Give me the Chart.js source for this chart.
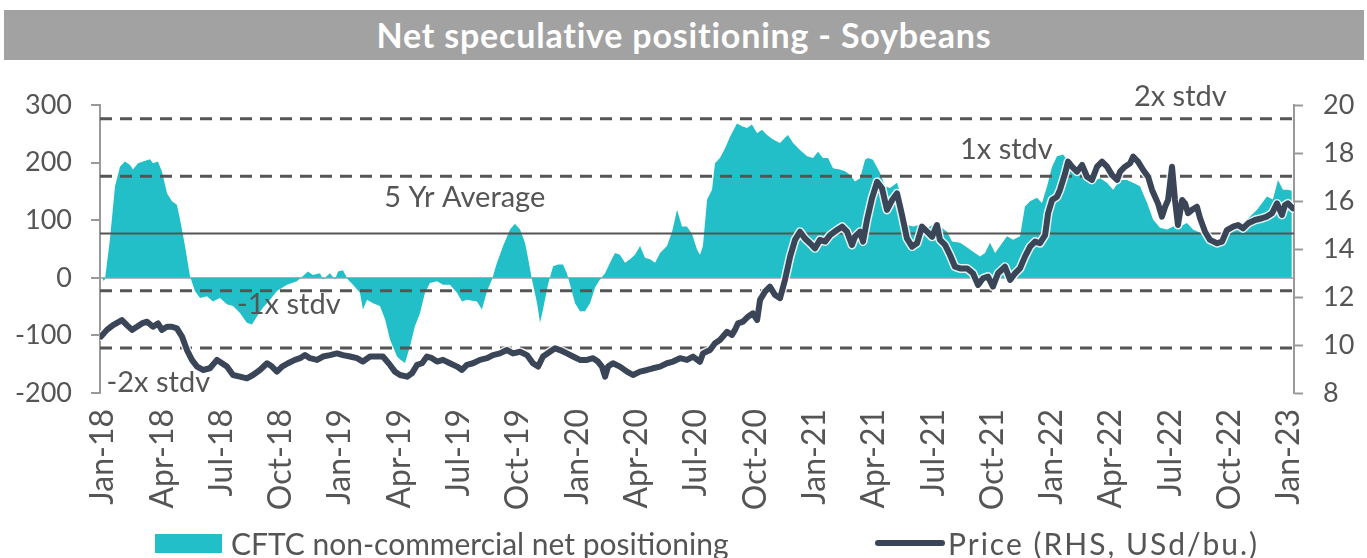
<!DOCTYPE html>
<html><head><meta charset="utf-8">
<script src="https://cdn.jsdelivr.net/npm/chart.js@4/dist/chart.umd.min.js"></script>
<style>
html,body{margin:0;padding:0;background:#fff;width:1367px;height:558px;overflow:hidden;font-family:Lato,sans-serif;}
#wrap{position:absolute;left:0;top:0;width:1367px;height:558px;}
#title{position:absolute;left:4px;top:10px;width:1360px;height:50px;background:#a2a2a2;color:#fff;font:bold 34px Lato,sans-serif;letter-spacing:0.8px;text-align:center;line-height:50px;}
#legend{position:absolute;top:527px;left:0;width:1367px;height:32px;font:30px Lato,sans-serif;color:#555;}
.item{position:absolute;top:0;display:flex;align-items:center;height:32px;white-space:nowrap}
.box{display:inline-block;width:67px;height:19px;background:#22bfc9;margin-right:9px}
.line{display:inline-block;width:70px;height:6px;border-radius:3px;background:#3a4558;margin-right:3px}
</style></head>
<body>
<div id="wrap"><canvas id="c" width="1367" height="558"></canvas></div>
<div id="title">Net speculative positioning - Soybeans</div>
<div id="legend">
<div class="item" style="left:155px"><span class="box"></span>CFTC non-commercial net positioning</div>
<div class="item" style="left:875px;letter-spacing:2px"><span class="line"></span>Price (RHS, USd/bu.)</div>
</div>
<script>
// x values are months since Jan-2018
const tickLabels = ['Jan-18','Apr-18','Jul-18','Oct-18','Jan-19','Apr-19','Jul-19','Oct-19','Jan-20','Apr-20','Jul-20','Oct-20','Jan-21','Apr-21','Jul-21','Oct-21','Jan-22','Apr-22','Jul-22','Oct-22','Jan-23'];
const tickMonths = [0,3,6,9,12,15,18,21,24,27,30,33,36,39,42,45,48,51,54,57,60];

const posMonths = [0.00,0.10,0.35,0.61,0.86,1.11,1.37,1.52,1.77,2.02,2.38,2.53,2.78,2.98,3.24,3.49,3.74,3.90,4.15,4.40,4.65,4.91,5.26,5.56,5.92,6.27,6.58,6.93,7.28,7.54,7.79,8.09,8.45,8.80,9.31,9.81,10.12,10.37,10.62,10.98,11.13,11.48,11.74,11.89,12.14,12.39,12.65,13.00,13.15,13.36,13.66,14.01,14.27,14.52,14.87,15.03,15.28,15.53,15.78,16.04,16.29,16.54,16.90,17.20,17.55,17.91,18.16,18.41,18.92,19.17,19.43,19.68,19.93,20.24,20.59,20.84,21.10,21.35,21.50,21.70,21.96,22.11,22.26,22.51,22.77,23.02,23.27,23.47,23.63,23.88,24.13,24.38,24.64,24.89,25.14,25.40,25.65,25.90,26.15,26.41,26.66,26.91,27.17,27.42,27.67,27.93,28.18,28.53,28.79,29.04,29.29,29.54,29.80,30.05,30.20,30.35,30.56,30.81,30.96,31.21,31.47,31.72,32.07,32.33,32.58,32.83,33.09,33.34,33.59,33.90,34.25,34.50,34.65,34.91,35.26,35.62,35.92,36.17,36.42,36.68,36.93,37.28,37.54,37.79,38.04,38.30,38.55,38.70,38.95,39.31,39.56,39.81,40.17,40.42,40.67,40.98,41.33,41.69,41.99,42.34,42.70,42.95,43.36,43.61,43.86,44.11,44.37,44.62,44.87,45.13,45.38,45.73,46.04,46.39,46.64,46.90,47.25,47.50,47.76,48.01,48.26,48.57,48.77,49.07,49.43,49.78,50.08,50.44,50.79,51.10,51.45,51.80,52.11,52.46,52.82,53.12,53.47,53.83,54.13,54.49,54.84,55.14,55.50,55.85,56.15,56.41,56.66,57.01,57.37,57.87,58.38,58.88,59.18,59.44,59.69,59.94,60.14];
const posValues = [-5,-3,66,159,193,202,196,188,199,202,206,199,202,185,147,133,127,101,55,3,-23,-35,-32,-41,-35,-46,-49,-61,-78,-81,-67,-52,-38,-23,-12,-6,3,11,5,8,-3,8,-3,11,13,-3,-12,-26,-55,-38,-44,-49,-72,-107,-136,-142,-148,-119,-84,-61,-26,-9,-6,-12,-12,-26,-41,-38,-41,-55,-23,-3,26,55,84,94,84,61,35,-3,-44,-78,-55,-12,20,23,23,8,-12,-44,-58,-58,-44,-17,-3,8,26,43,40,26,32,40,55,35,32,26,43,55,80,118,89,89,76,49,40,55,136,153,199,208,225,245,268,263,260,266,251,257,248,240,234,243,248,234,222,211,208,219,208,208,190,188,185,179,167,173,205,208,205,182,159,156,165,136,92,89,92,86,92,89,80,63,61,55,49,43,37,43,61,43,55,72,66,72,124,133,139,130,159,193,211,214,205,190,182,173,167,173,165,153,170,170,165,159,130,101,87,84,89,89,95,84,78,66,61,55,66,84,89,101,118,141,136,170,153,153,151];

const priceMonths = [-0.10,0.20,0.51,0.96,1.21,1.47,1.72,1.97,2.23,2.53,2.78,2.98,3.24,3.49,3.74,4.00,4.25,4.50,4.76,5.06,5.41,5.77,6.02,6.27,6.58,6.93,7.28,7.59,7.94,8.30,8.55,8.80,9.06,9.36,9.71,9.97,10.22,10.47,10.83,11.13,11.48,11.84,12.14,12.50,12.85,13.15,13.51,13.86,14.16,14.52,14.77,15.03,15.38,15.63,15.89,16.14,16.39,16.64,16.90,17.20,17.55,17.91,18.16,18.41,18.72,19.07,19.43,19.73,20.08,20.44,20.74,21.10,21.45,21.75,22.01,22.26,22.61,22.87,23.12,23.47,23.78,24.13,24.49,24.79,25.04,25.24,25.40,25.55,25.80,26.15,26.51,26.81,27.17,27.52,27.82,28.18,28.53,28.84,29.19,29.54,29.85,30.20,30.35,30.71,30.96,31.21,31.57,31.82,31.97,32.12,32.38,32.63,32.88,33.09,33.24,33.49,33.74,34.00,34.25,34.50,34.76,35.01,35.26,35.51,35.77,36.02,36.27,36.53,36.78,37.13,37.39,37.64,37.89,38.04,38.30,38.45,38.65,38.90,39.16,39.41,39.66,39.92,40.17,40.42,40.67,40.93,41.18,41.43,41.69,41.94,42.19,42.34,42.60,42.85,43.10,43.36,43.71,44.01,44.27,44.52,44.77,45.02,45.28,45.63,45.89,46.14,46.39,46.64,46.90,47.15,47.40,47.66,47.81,48.01,48.26,48.41,48.67,48.82,49.02,49.27,49.53,49.78,50.03,50.29,50.54,50.79,51.05,51.30,51.45,51.70,51.96,52.11,52.36,52.62,52.87,53.07,53.22,53.37,53.57,53.73,53.88,54.08,54.23,54.38,54.59,54.74,54.89,55.09,55.34,55.50,55.75,56.00,56.36,56.61,56.86,57.17,57.42,57.67,57.93,58.28,58.63,58.88,59.14,59.39,59.64,59.79,59.94,60.20];
const priceValues = [10.35,10.63,10.83,11.04,10.83,10.63,10.76,10.90,10.97,10.76,10.90,10.63,10.76,10.76,10.69,10.35,9.79,9.38,9.10,8.96,9.03,9.38,9.24,9.10,8.75,8.68,8.61,8.75,8.96,9.24,9.10,8.89,9.10,9.24,9.38,9.45,9.58,9.45,9.38,9.52,9.58,9.65,9.58,9.52,9.45,9.31,9.52,9.52,9.52,9.17,8.89,8.75,8.68,8.82,9.17,9.24,9.52,9.45,9.31,9.38,9.24,9.10,8.96,9.17,9.24,9.38,9.45,9.58,9.65,9.79,9.65,9.72,9.58,9.24,9.10,9.52,9.72,9.86,9.79,9.65,9.52,9.38,9.38,9.45,9.31,9.10,8.68,9.10,9.24,9.10,8.89,8.75,8.89,8.96,9.03,9.10,9.24,9.31,9.45,9.38,9.52,9.30,9.65,9.79,10.07,10.21,10.55,10.42,10.63,10.90,10.97,11.18,11.32,11.04,11.88,12.22,12.43,12.08,11.95,12.71,13.68,14.38,14.72,14.44,14.24,14.03,14.38,14.31,14.58,14.79,14.93,14.72,14.17,14.51,14.72,14.31,15.21,16.11,16.80,16.53,15.63,16.04,16.32,15.42,14.44,14.10,14.24,14.93,14.72,14.51,15.00,14.38,14.17,13.75,13.26,13.19,13.19,12.99,12.50,12.78,12.85,12.43,12.99,13.26,12.71,12.99,13.19,13.68,14.10,14.31,14.24,14.58,15.49,16.04,16.18,16.46,17.15,17.64,17.43,17.22,17.50,17.01,16.88,17.43,17.64,17.43,17.08,16.88,17.22,17.43,17.57,17.85,17.64,17.29,17.01,16.46,16.18,15.90,15.35,15.76,16.04,17.43,16.04,15.00,16.04,15.90,15.49,15.63,15.76,15.28,14.72,14.38,14.24,14.31,14.79,14.93,15.00,14.86,15.07,15.21,15.28,15.35,15.49,15.90,15.42,15.83,15.90,15.69];

const fiveYrAverage = 77;
const stdDev = 99.5;

const xMin = -0.15, xMax = 60.25;

const annotations = [
  {text:'2x stdv', m:54.5, v:314},
  {text:'1x stdv', m:45.7, v:222},
  {text:'5 Yr Average', m:18.3, v:139},
  {text:'-1x stdv', m:9.4, v:-46},
  {text:'-2x stdv', m:2.8, v:-182}
];

const annotPlugin = {
  id:'annots',
  afterDatasetsDraw(chart){
    const {ctx, scales:{x, y}} = chart;
    ctx.save();
    ctx.font = '29px Lato';
    ctx.fillStyle = '#555';
    ctx.textAlign = 'center';
    ctx.textBaseline = 'middle';
    annotations.forEach(a => ctx.fillText(a.text, x.getPixelForValue(a.m), y.getPixelForValue(a.v)));
    ctx.restore();
  }
};

function hline(v, dashed, width, order){
  return {data:[{x:xMin,y:v},{x:xMax,y:v}], yAxisID:'y', borderColor:'#555', borderWidth:width,
    borderDash: dashed ? [12,8] : [], pointRadius:0, fill:false, order:order, tension:0};
}

function draw(){
  const posData = posMonths.map((m,i)=>({x:m, y:posValues[i]}));
  const priceData = priceMonths.map((m,i)=>({x:m, y:priceValues[i]}));
  new Chart(document.getElementById('c'), {
    type:'line',
    data:{datasets:[
      {label:'CFTC non-commercial net positioning', data:posData, yAxisID:'y', borderWidth:0, borderColor:'#22bfc9',
        backgroundColor:'#22bfc9', fill:'origin', pointRadius:0, order:10, tension:0},
      hline(fiveYrAverage + 2*stdDev, true, 3, 5),
      hline(fiveYrAverage + stdDev, true, 3, 5),
      hline(fiveYrAverage, false, 2, 5),
      hline(fiveYrAverage - stdDev, true, 3, 5),
      hline(fiveYrAverage - 2*stdDev, true, 3, 5),
      {label:'halo', data:priceData, yAxisID:'y2', borderColor:'rgba(255,255,255,0.85)', borderWidth:9,
        pointRadius:0, fill:false, order:2, tension:0, borderJoinStyle:'round', borderCapStyle:'round'},
      {label:'Price (RHS, USd/bu.)', data:priceData, yAxisID:'y2', borderColor:'#3a4558', borderWidth:6,
        pointRadius:0, fill:false, order:1, tension:0, borderJoinStyle:'round', borderCapStyle:'round'}
    ]},
    options:{
      responsive:false, animation:false, events:[],
      layout:{padding:{top:105, left:0, right:0, bottom:0}},
      plugins:{legend:{display:false}, tooltip:{enabled:false}, title:{display:false}},
      scales:{
        x:{type:'linear', min:xMin, max:xMax,
          afterBuildTicks:s=>{ s.ticks = tickMonths.map(v=>({value:v})); },
          afterFit:s=>{ s.height = 165; },
          grid:{display:false}, border:{display:false},
          ticks:{autoSkip:false, minRotation:90, maxRotation:90, padding:8, color:'#555',
            font:{family:'Lato', size:32}, callback:(v,i)=>tickLabels[i]}},
        y:{position:'left', min:-200, max:300,
          afterFit:s=>{ s.width = 100; },
          ticks:{stepSize:50, padding:19, color:'#555', font:{family:'Lato', size:27}},
          grid:{color:c=> (c.tick && c.tick.value===0) ? '#b5b5b5' : 'rgba(0,0,0,0)', lineWidth:2, tickColor:'#999', tickLength:9, tickWidth:2},
          border:{display:true, color:'#999', width:2}},
        y2:{position:'right', min:8, max:20,
          afterFit:s=>{ s.width = 73; },
          ticks:{stepSize:2, padding:20, color:'#555', font:{family:'Lato', size:27}},
          grid:{drawOnChartArea:false, tickColor:'#999', tickLength:9, tickWidth:2},
          border:{display:true, color:'#999', width:2}}
      }
    },
    plugins:[annotPlugin]
  });
}
if (document.fonts && document.fonts.load) {
  Promise.all([document.fonts.load('27px Lato'), document.fonts.load('bold 34px Lato')]).then(draw, draw);
} else draw();
</script>
</body></html>
